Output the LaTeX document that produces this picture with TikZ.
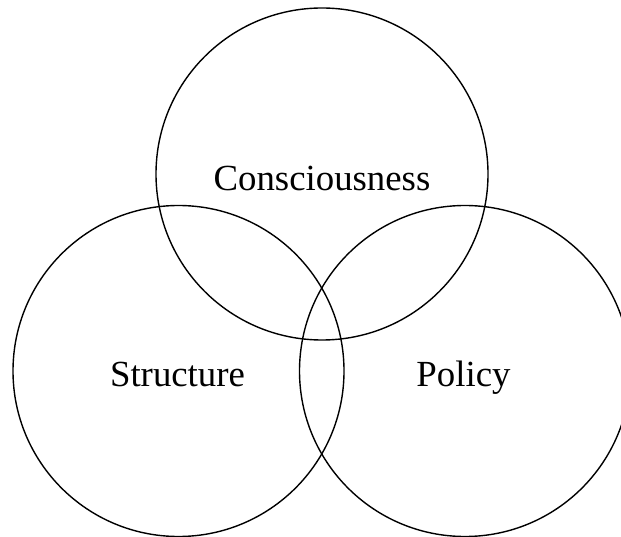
\documentclass[tikz,border=0pt]{standalone}
\usepackage{fontspec}
\setmainfont{Liberation Serif}
\begin{document}
\begin{tikzpicture}[x=1pt,y=-1pt,line width=1.4pt]
            \useasboundingbox (0,0) rectangle (621,537);
            \clip (0,0) rectangle (621,537);
            \draw (322,174) circle [radius=166pt];
            \draw (178.5,371) circle [radius=165.5pt];
            \draw (465,371) circle [radius=165.5pt];
            \node[anchor=base] (C) at (322,191){\fontsize{36.8}{40}\selectfont Consciousness};
            \node[anchor=base] (S) at (177.5,386){\fontsize{36.8}{40}\selectfont Structure};
            \node[anchor=base] (P) at (463.5,386){\fontsize{36.8}{40}\selectfont Policy};
        \end{tikzpicture}
\end{document}
